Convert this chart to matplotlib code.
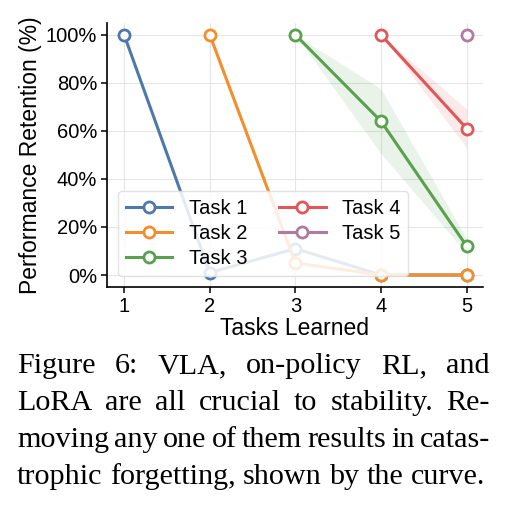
import numpy as np
import matplotlib
matplotlib.use("Agg")
import matplotlib.pyplot as plt
from matplotlib.ticker import FuncFormatter

# ---- data ----
tasks_learned = [1, 2, 3, 4, 5]
series_names = ["Task 1", "Task 2", "Task 3", "Task 4", "Task 5"]
task1 = [100, 1, 11, 0, 0]
task2 = [np.nan, 100, 5, 0, 0]
task3 = [np.nan, np.nan, 100, 64, 12]
task4 = [np.nan, np.nan, np.nan, 100, 61]
task5 = [np.nan, np.nan, np.nan, np.nan, 100]
err1 = [0, 0, 0, 0, 0]
err2 = [0, 0, 0, 0, 0]
err3 = [0, 0, 0, 13.5, 3]
err4 = [0, 0, 0, 0, 8]
err5 = [0, 0, 0, 0, 0]
y_ticks = [0, 20, 40, 60, 80, 100]
colors = ["#4e79a7", "#f28e2b", "#59a14f", "#e15759", "#b07aa1"]
caption_lines = [
    "Figure 6:  VLA, on-policy RL, and",
    "LoRA are all crucial to stability.  Re-",
    "moving any one of them results in catas-",
    "trophic forgetting, shown by the curve.",
]

plt.rcParams['font.family'] = ['Liberation Sans', 'DejaVu Sans']
fs = 14.5
lab_fs = 16.5

fig = plt.figure(figsize=(5.06, 5.08), dpi=100)
ax = fig.add_axes([0.2115, 0.435, 0.743, 0.52])

x = np.array(tasks_learned, dtype=float)
all_series = [task1, task2, task3, task4, task5]
all_err = [err1, err2, err3, err4, err5]
for name, ys, es, c in zip(series_names, all_series, all_err, colors):
    ys = np.array(ys, dtype=float)
    es = np.array(es, dtype=float)
    m = ~np.isnan(ys)
    ax.fill_between(x[m], (ys - es)[m], (ys + es)[m], color=c, alpha=0.12, lw=0)
    ax.plot(x[m], ys[m], color=c, lw=2.2, marker='o', ms=8, mfc='white',
            mec=c, mew=2, label=name, zorder=3)

ax.set_xlim(0.8, 5.19)
ax.set_ylim(-5, 105)
ax.set_xticks(tasks_learned)
ax.set_yticks(y_ticks)
ax.yaxis.set_major_formatter(FuncFormatter(lambda v, p: f"{int(v)}%"))
ax.tick_params(labelsize=fs, direction='out', length=4, width=1.1, pad=3)
ax.grid(True, color='#e6e6e6', lw=0.8)
ax.set_axisbelow(True)
for s in ['top', 'right']:
    ax.spines[s].set_visible(False)
for s in ['left', 'bottom']:
    ax.spines[s].set_linewidth(1.2)
ax.set_xlabel("Tasks Learned", fontsize=lab_fs, labelpad=1)
ax.set_ylabel("Performance Retention (%)", fontsize=lab_fs, labelpad=3)

leg = ax.legend(loc='lower left', ncol=2, fontsize=fs, framealpha=0.85,
                handlelength=2.3, columnspacing=1.6, borderaxespad=0.55,
                labelspacing=0.3, handletextpad=0.8)
leg.get_frame().set_edgecolor('#dddddd')

# ---- justified caption ----
cap_fs = 21.7
left_px, right_px = 17, 490
baselines = [373, 410, 447, 484]
W, H = fig.get_size_inches() * fig.dpi
fig.canvas.draw()
renderer = fig.canvas.get_renderer()
for i, line in enumerate(caption_lines):
    words = line.split()
    yb = 1 - baselines[i] / H
    texts = [fig.text(0, yb, w, fontsize=cap_fs, family='Liberation Serif',
                      va='baseline', ha='left') for w in words]
    widths = [t.get_window_extent(renderer).width for t in texts]
    if i < len(caption_lines) - 1:
        gap = (right_px - left_px - sum(widths)) / (len(words) - 1)
    else:
        sp = fig.text(0, 0, "a b", fontsize=cap_fs, family='Liberation Serif')
        sp2 = fig.text(0, 0, "ab", fontsize=cap_fs, family='Liberation Serif')
        gap = sp.get_window_extent(renderer).width - sp2.get_window_extent(renderer).width
        sp.remove(); sp2.remove()
    xp = left_px
    for t, w in zip(texts, widths):
        t.set_x(xp / W)
        xp += w + gap

fig.savefig("out.png", dpi=100)
